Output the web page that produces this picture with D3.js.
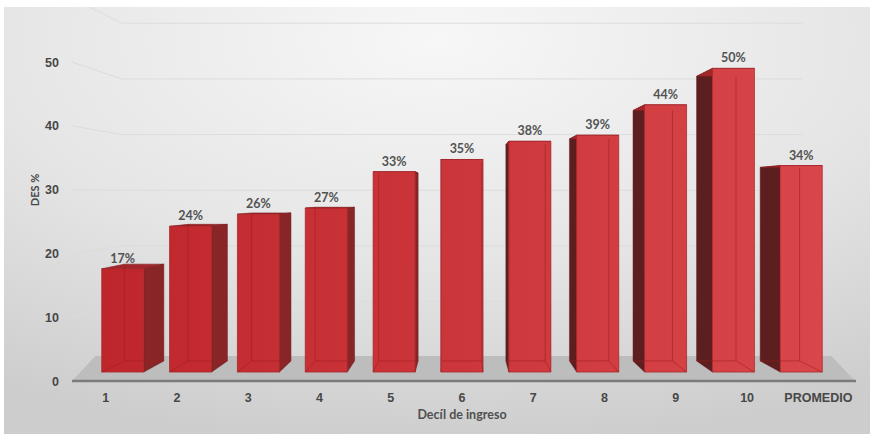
<!DOCTYPE html>
<html>
<head>
<meta charset="utf-8">
<script src="https://cdn.jsdelivr.net/npm/d3@7"></script>
<style>
    body { margin: 0; background: #fff; }
    svg { display: block; font-family: 'Lato', 'DejaVu Sans', sans-serif; }
</style>
</head>
<body>
<div id="chart"></div>
<script>
const categories = ['1', '2', '3', '4', '5', '6', '7', '8', '9', '10', 'PROMEDIO'];
const values = [17, 24, 26, 27, 33, 35, 38, 39, 44, 50, 34];
const yTicks = [0, 10, 20, 30, 40, 50];
const gridLevels = [10, 20, 30, 40, 50, 60];

const width = 871;
const height = 436;

// everything is laid out on the front plane and then pulled toward the vanishing point
const depth = {
    barFront: 0.952,
    barBack: 0.892,
    wall: 0.873,
    floorX: 0.94,
    floorY: 0.866,
};

const xScale = d3
    .scaleBand()
    .domain(categories)
    .range([70, 854])
    .paddingInner(0.38)
    .paddingOuter(0.19);

const yScale = d3.scaleLinear().domain([0, 50]).range([381, 62]);

const vp = { x: (xScale.range()[0] + xScale.range()[1]) / 2, y: 195 };
const project = (x, y, s, sy = s) => [
    vp.x + (x - vp.x) * s,
    vp.y + (y - vp.y) * sy,
];
const poly = (pts) => 'M' + pts.map((p) => p.join(',')).join('L') + 'Z';

const svg = d3
    .select('#chart')
    .append('svg')
    .attr('width', width)
    .attr('height', height);

const defs = svg.append('defs');

const bg = defs
    .append('radialGradient')
    .attr('id', 'bg')
    .attr('cx', '50%')
    .attr('cy', '8%')
    .attr('r', '95%');
bg.append('stop').attr('offset', '0%').attr('stop-color', '#f7f7f7');
bg.append('stop').attr('offset', '55%').attr('stop-color', '#e5e5e5');
bg.append('stop').attr('offset', '100%').attr('stop-color', '#cdcdcd');

const frontGrad = defs
    .append('linearGradient')
    .attr('id', 'front')
    .attr('gradientUnits', 'userSpaceOnUse')
    .attr('x1', 100)
    .attr('x2', 830)
    .attr('y1', 0)
    .attr('y2', 0);
frontGrad.append('stop').attr('offset', '0%').attr('stop-color', '#bf262c');
frontGrad.append('stop').attr('offset', '100%').attr('stop-color', '#d9474a');

const panel = { x: 4, y: 7, w: width - 5, h: height - 9 };

defs.append('clipPath')
    .attr('id', 'panel-clip')
    .append('rect')
    .attr('x', panel.x)
    .attr('y', panel.y)
    .attr('width', panel.w)
    .attr('height', panel.h);

svg.append('rect')
    .attr('x', panel.x)
    .attr('y', panel.y)
    .attr('width', panel.w)
    .attr('height', panel.h)
    .attr('fill', 'url(#bg)');

// back wall + left wall grid
const wallLeft = xScale.range()[0] + 2;
const wallRight = xScale.range()[1] - 2;

svg.append('g')
    .attr('clip-path', 'url(#panel-clip)')
    .selectAll('path')
    .data(gridLevels)
    .join('path')
    .attr('d', (d) => {
        const y = yScale(d);
        const a = [wallLeft, y];
        const b = project(wallLeft, y, depth.wall);
        const c = project(wallRight, y, depth.wall);
        return `M${a}L${b}L${c}`;
    })
    .attr('fill', 'none')
    .attr('stroke', '#dcdcdc')
    .attr('stroke-width', 1);

// floor
const floorLeft = xScale.range()[0] + 2;
const floorRight = xScale.range()[1] + 1;
const y0 = yScale(0);

svg.append('path')
    .attr(
        'd',
        poly([
            [floorLeft, y0],
            project(floorLeft, y0, depth.floorX, depth.floorY),
            project(floorRight, y0, depth.floorX, depth.floorY),
            [floorRight, y0],
        ])
    )
    .attr('fill', '#bdbdbd');

svg.append('line')
    .attr('x1', floorLeft)
    .attr('x2', floorRight + 1)
    .attr('y1', y0)
    .attr('y2', y0)
    .attr('stroke', '#7b7b7b')
    .attr('stroke-width', 2.5);

// bars
const bars = categories.map((c, i) => {
    const x0 = xScale(c);
    const x1 = x0 + xScale.bandwidth();
    const yT = yScale(values[i]);
    const f = (x, y) => project(x, y, depth.barFront);
    const b = (x, y) => project(x, y, depth.barBack);
    return {
        cat: c,
        value: values[i],
        cx: x0 + xScale.bandwidth() / 2,
        yT,
        fTL: f(x0, yT), fTR: f(x1, yT), fBR: f(x1, y0), fBL: f(x0, y0),
        bTL: b(x0, yT), bTR: b(x1, yT), bBR: b(x1, y0), bBL: b(x0, y0),
    };
});

const barG = svg.append('g')
    .selectAll('g')
    .data(bars)
    .join('g');

barG.append('path')
    .attr('d', (d) =>
        d.cx < vp.x - 1
            ? poly([d.fTR, d.bTR, d.bBR, d.fBR])
            : poly([d.fTL, d.bTL, d.bBL, d.fBL])
    )
    .attr('fill', (d) => (d.cx < vp.x ? '#882627' : '#5c1e1f'))
    .attr('stroke', '#6a1d1f')
    .attr('stroke-width', 0.5);

barG.append('path')
    .attr('d', (d) => poly([d.fTL, d.fTR, d.bTR, d.bTL]))
    .attr('fill', '#a3262a')
    .attr('stroke', '#7d1d20')
    .attr('stroke-width', 0.6);

barG.append('path')
    .attr('d', (d) => poly([d.fTL, d.fTR, d.fBR, d.fBL]))
    .attr('fill', 'url(#front)')
    .attr('stroke', '#a21f24')
    .attr('stroke-width', 0.7);

// hidden back edges showing through the glassy front
barG.append('path')
    .attr('d', (d) => {
        const edge = d.cx < vp.x ? [d.bTL, d.bBL] : [d.bTR, d.bBR];
        const corner = d.cx < vp.x ? d.fBL : d.fBR;
        return `M${edge[0]}L${edge[1]}M${d.bBL}L${d.bBR}M${corner}L${edge[1]}`;
    })
    .attr('fill', 'none')
    .attr('stroke', '#9e1c21')
    .attr('stroke-opacity', 0.7)
    .attr('stroke-width', 0.8);

svg.append('g')
    .selectAll('text')
    .data(bars)
    .join('text')
    .attr('x', (d) => project(d.cx, d.yT, depth.barFront)[0])
    .attr('y', (d) => project(d.cx, d.yT, depth.barFront)[1] - 6)
    .attr('text-anchor', 'middle')
    .attr('font-size', '12.5px')
    .attr('font-weight', 'bold')
    .attr('fill', '#525252')
    .text((d) => `${d.value}%`);

// axes
const yAxis = svg.append('g')
    .attr('transform', `translate(61, 0)`)
    .call(d3.axisLeft(yScale).tickValues(yTicks).tickSize(0).tickPadding(2));

const xAxis = svg.append('g')
    .attr('transform', `translate(0, ${y0})`)
    .call(d3.axisBottom(xScale).tickSize(0).tickPadding(12));

[yAxis, xAxis].forEach((ax) => {
    ax.select('.domain').remove();
    ax.selectAll('text')
        .attr('font-family', null)
        .attr('font-size', '12.5px')
        .attr('font-weight', 'bold')
        .attr('fill', '#474747');
});

svg.append('text')
    .attr('transform', 'translate(39, 190) rotate(-90)')
    .attr('text-anchor', 'middle')
    .attr('font-size', '11px')
    .attr('font-weight', 'bold')
    .attr('fill', '#474747')
    .text('DES %');

svg.append('text')
    .attr('x', vp.x)
    .attr('y', 419)
    .attr('text-anchor', 'middle')
    .attr('font-size', '12.5px')
    .attr('font-weight', 'bold')
    .attr('fill', '#505050')
    .text('Decíl de ingreso');
</script>
</body>
</html>
